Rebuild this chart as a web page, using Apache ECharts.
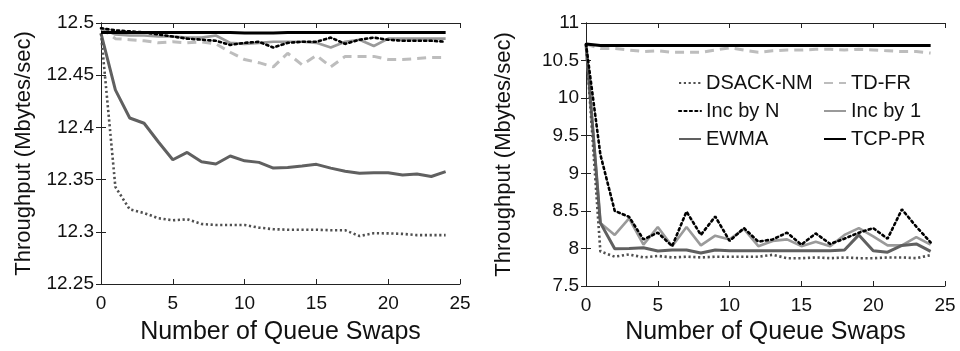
<!DOCTYPE html>
<html>
<head>
<meta charset="utf-8">
<script src="https://cdn.jsdelivr.net/npm/echarts@6/dist/echarts.min.js"></script>
<style>
html,body{margin:0;padding:0;background:#fff;}
#chart{width:960px;height:351px;}
</style>
</head>
<body>
<div id="chart"></div>
<script>
// ---- data ----
const swaps = [0,1,2,3,4,5,6,7,8,9,10,11,12,13,14,15,16,17,18,19,20,21,22,23,24];
const seriesNames = ['DSACK-NM','TD-FR','Inc by N','Inc by 1','EWMA','TCP-PR'];
const xTicks = [0,5,10,15,20,25];
const leftYTicks = [12.25,12.3,12.35,12.4,12.45,12.5];
const rightYTicks = [7.5,8,8.5,9,9.5,10,10.5,11];

// left panel
const leftDSACK = [12.49,12.343,12.3215,12.318,12.313,12.311,12.312,12.3075,12.3065,12.3065,12.3065,12.304,12.3025,12.302,12.302,12.302,12.3015,12.3015,12.296,12.2986,12.2985,12.298,12.2968,12.2968,12.2968];
const leftTDFR  = [12.495,12.485,12.484,12.483,12.481,12.482,12.481,12.482,12.480,12.472,12.465,12.462,12.458,12.471,12.460,12.469,12.458,12.468,12.468,12.468,12.465,12.465,12.466,12.467,12.467];
const leftIncN  = [12.495,12.493,12.492,12.491,12.489,12.487,12.485,12.484,12.483,12.479,12.481,12.482,12.4765,12.481,12.482,12.482,12.486,12.480,12.484,12.486,12.484,12.483,12.483,12.483,12.482];
const leftInc1  = [12.495,12.489,12.488,12.488,12.487,12.487,12.486,12.486,12.488,12.481,12.480,12.481,12.482,12.482,12.482,12.481,12.4765,12.482,12.484,12.478,12.485,12.485,12.485,12.485,12.485];
const leftEWMA  = [12.49,12.436,12.409,12.404,12.386,12.369,12.376,12.367,12.365,12.3726,12.368,12.3665,12.361,12.3615,12.363,12.3646,12.361,12.358,12.356,12.3566,12.3566,12.3545,12.3553,12.353,12.3576];
const leftTCPPR = [12.491,12.491,12.491,12.491,12.491,12.491,12.491,12.491,12.491,12.491,12.4905,12.4905,12.4905,12.491,12.491,12.491,12.491,12.491,12.491,12.491,12.491,12.491,12.491,12.491,12.491];

// right panel
const rightDSACK = [10.72,7.96,7.89,7.92,7.88,7.90,7.88,7.89,7.88,7.89,7.89,7.89,7.89,7.915,7.87,7.87,7.88,7.87,7.88,7.87,7.87,7.88,7.88,7.87,7.91];
const rightTDFR  = [10.72,10.66,10.66,10.64,10.62,10.63,10.61,10.61,10.61,10.64,10.67,10.64,10.61,10.63,10.64,10.64,10.65,10.65,10.64,10.65,10.64,10.63,10.62,10.62,10.60];
const rightIncN  = [10.72,9.25,8.5,8.42,8.12,8.21,8.03,8.49,8.18,8.425,8.10,8.27,8.09,8.12,8.21,8.05,8.20,8.06,8.13,8.21,8.27,8.13,8.52,8.29,8.08];
const rightInc1  = [10.72,8.34,8.18,8.40,8.05,8.285,8.03,8.285,8.04,8.17,8.12,8.26,8.03,8.10,8.12,8.03,8.09,8.03,8.18,8.27,8.16,8.04,8.04,8.15,8.05];
const rightEWMA  = [10.72,8.34,7.995,8.0,8.01,7.965,7.98,7.98,7.94,7.98,7.97,7.97,7.97,7.97,7.97,7.97,7.97,7.97,7.98,8.18,7.97,7.95,8.04,8.06,7.96];
const rightTCPPR = [10.72,10.70,10.70,10.70,10.70,10.70,10.70,10.70,10.70,10.70,10.70,10.70,10.70,10.70,10.70,10.70,10.70,10.70,10.70,10.70,10.70,10.70,10.70,10.70,10.70];

// ---- styling ----
const FONT = 'Liberation Sans, Arial, Helvetica, sans-serif';
const styles = {
  'DSACK-NM': {color:'#505050', width:2.6, type:[2.2,2.6], cap:'butt'},
  'TD-FR':    {color:'#bdbdbd', width:3,   type:[9,6],     cap:'butt'},
  'Inc by N': {color:'#000000', width:2.6, type:[2.2,3.2], cap:'round'},
  'Inc by 1': {color:'#9a9a9a', width:2.6, type:'solid',   cap:'butt'},
  'EWMA':     {color:'#606060', width:3,   type:'solid',   cap:'butt'},
  'TCP-PR':   {color:'#000000', width:3,   type:'solid',   cap:'butt'}
};
const drawOrder = ['TD-FR','Inc by 1','EWMA','DSACK-NM','TCP-PR','Inc by N'];
const leftData  = {'DSACK-NM':leftDSACK,'TD-FR':leftTDFR,'Inc by N':leftIncN,'Inc by 1':leftInc1,'EWMA':leftEWMA,'TCP-PR':leftTCPPR};
const rightData = {'DSACK-NM':rightDSACK,'TD-FR':rightTDFR,'Inc by N':rightIncN,'Inc by 1':rightInc1,'EWMA':rightEWMA,'TCP-PR':rightTCPPR};

function mkSeries(dataMap, xi, yi){
  return drawOrder.map((name, k) => ({
    name: name, type:'line', xAxisIndex:xi, yAxisIndex:yi,
    data: swaps.map((x,i)=>[x, dataMap[name][i]]),
    showSymbol:false, symbol:'rect', symbolSize:0, animation:false, z: 2 + k,
    lineStyle:{color:styles[name].color, width:styles[name].width, type:styles[name].type, cap:styles[name].cap},
    itemStyle:{color:'rgba(0,0,0,0)', borderColor:'rgba(0,0,0,0)', borderWidth:0}
  }));
}

const frame = {show:true, lineStyle:{color:'#222', width:1}};
const tick = {show:true, inside:true, length:5, lineStyle:{color:'#222', width:1}};
const fmt = v => String(Math.round(v*100)/100);

function xAxes(gi){
  return [
    {type:'value', gridIndex:gi, position:'bottom', min:xTicks[0], max:xTicks[xTicks.length-1], interval:5,
     axisLine:frame, axisTick:tick, splitLine:{show:false},
     axisLabel:{color:'#111', fontSize:19, fontFamily:FONT, margin:10},
     name:'Number of Queue Swaps', nameLocation:'middle', nameGap: gi===0?36:34,
     nameTextStyle:{color:'#111', fontSize:25, fontFamily:FONT}},
    {type:'value', gridIndex:gi, position:'top', min:xTicks[0], max:xTicks[xTicks.length-1], interval:5,
     axisLine:frame, axisTick:tick, splitLine:{show:false}, axisLabel:{show:false}}
  ];
}
function yAxes(gi, ticks, iv){
  return [
    {type:'value', gridIndex:gi, position:'left', min:ticks[0], max:ticks[ticks.length-1], interval:iv,
     axisLine:frame, axisTick:tick, splitLine:{show:false},
     axisLabel:{color:'#111', fontSize:19, fontFamily:FONT, margin:7, formatter:fmt},
     name:'Throughput (Mbytes/sec)', nameLocation:'middle', nameGap: gi===0?66:71,
     nameTextStyle:{color:'#111', fontSize:22, fontFamily:FONT}},
    {type:'value', gridIndex:gi, position:'right', min:ticks[0], max:ticks[ticks.length-1], interval:iv,
     axisLine:frame, axisTick:tick, splitLine:{show:false}, axisLabel:{show:false}}
  ];
}

const legendCommon = {orient:'vertical', itemWidth:22, itemHeight:14, itemGap:8,
  textStyle:{color:'#111', fontSize:20, fontFamily:FONT, lineHeight:20},
  itemStyle:{color:'rgba(0,0,0,0)', borderColor:'rgba(0,0,0,0)', borderWidth:0},
  selectedMode:false, inactiveColor:'#111'};

const option = {
  animation:false,
  backgroundColor:'#fff',
  grid:[
    {left:101, top:23, width:359, height:261},
    {left:586, top:23, width:359, height:263}
  ],
  xAxis:[...xAxes(0), ...xAxes(1)],
  yAxis:[...yAxes(0, leftYTicks, 0.05), ...yAxes(1, rightYTicks, 0.5)],
  legend:[
    Object.assign({left:673, top:68, data:['DSACK-NM','Inc by N','EWMA']}, legendCommon),
    Object.assign({left:818, top:68, data:['TD-FR','Inc by 1','TCP-PR']}, legendCommon)
  ],
  series:[...mkSeries(leftData, 0, 0), ...mkSeries(rightData, 2, 2)]
};

const chart = echarts.init(document.getElementById('chart'), null, {renderer:'canvas'});
chart.setOption(option);
</script>
</body>
</html>
